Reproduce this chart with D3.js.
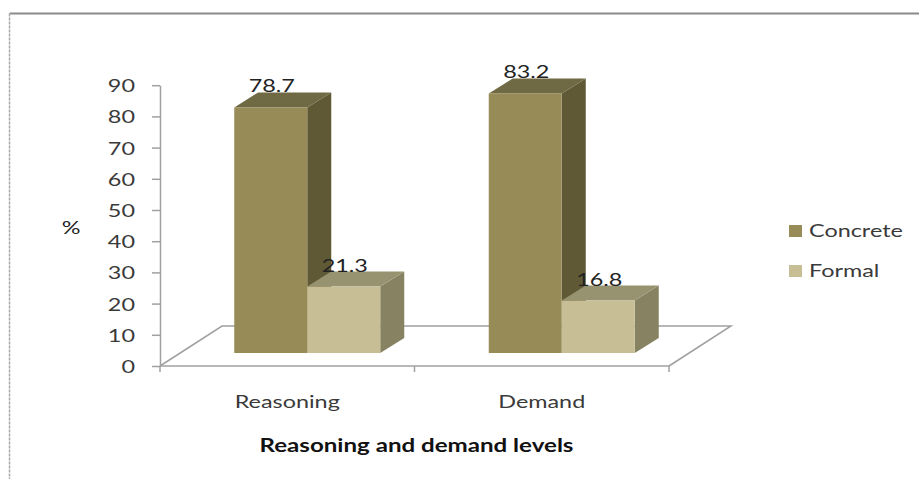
<!DOCTYPE html>
<html>
<head>
<meta charset="utf-8">
<script src="https://cdn.jsdelivr.net/npm/d3@7"></script>
<style>
  body { margin: 0; background: #fff; }
  text { font-family: Lato, "Open Sans", sans-serif; }
</style>
</head>
<body>
<div id="chart"></div>
<script>
// data
const categories = ["Reasoning", "Demand"];
const series = ["Concrete", "Formal"];
const concreteVals = [78.7, 83.2];
const formalVals = [21.3, 16.8];
const yTicks = [0, 10, 20, 30, 40, 50, 60, 70, 80, 90];

const colors = {
  Concrete: {front: "#978c57", side: "#5f5935", top: "#6f6a43"},
  Formal:   {front: "#c8be95", side: "#868262", top: "#97926f"}
};

const W = 919, H = 479;
const sx = 1.3; // the source picture is stretched sideways, so is the text

const svg = d3.select("#chart").append("svg")
    .attr("width", W)
    .attr("height", H);

// outer frame (only top and left edges show)
svg.append("line").attr("x1", 9.5).attr("x2", W).attr("y1", 13.5).attr("y2", 13.5)
    .style("stroke", "#8a8a8a").style("stroke-width", 2);
svg.append("line").attr("x1", 9.5).attr("x2", 9.5).attr("y1", 13.5).attr("y2", H)
    .style("stroke", "#a8a8a8").style("stroke-width", 1.5).style("stroke-dasharray", "3,1");

// scales
const y = d3.scaleLinear().domain([0, 90]).range([366, 85.2]);
const x = d3.scaleBand().domain(categories).range([160, 669]).padding(0);
const inner = d3.scaleBand().domain(series).range([0, 146]);

// 3d offsets
const floorDepth = {dx: 62, dy: -40};
const barShift = {dx: 20, dy: -13};
const barDepth = {dx: 24, dy: -15};

// helper for stretched text
function label(g, str, px, py, anchor, opts) {
    opts = opts || {};
    return g.append("text")
        .attr("transform", "translate(" + px + "," + py + ") scale(" + (opts.sx || sx) + ",1)")
        .attr("text-anchor", anchor)
        .style("font-size", (opts.size || 18) + "px")
        .style("font-weight", opts.weight || "normal")
        .style("fill", opts.fill || "#3a3a3a")
        .text(str);
}

// floor
const x0 = x.range()[0], x1 = x.range()[1], yb = y(0);
svg.append("path")
    .attr("d", "M" + x0 + "," + yb +
               "L" + (x0 + floorDepth.dx) + "," + (yb + floorDepth.dy) +
               "L" + (x1 + floorDepth.dx) + "," + (yb + floorDepth.dy) +
               "L" + x1 + "," + yb)
    .style("fill", "none")
    .style("stroke", "#a0a0a0")
    .style("stroke-width", 1.5);

// y axis
const yAxis = d3.axisLeft(y).tickValues(yTicks).tickSize(8).tickSizeOuter(0);
const gy = svg.append("g")
    .attr("transform", "translate(" + x0 + ",0)")
    .call(yAxis);
gy.select(".domain").style("stroke", "#a0a0a0").style("stroke-width", 1.5);
gy.selectAll(".tick line").style("stroke", "#a0a0a0").style("stroke-width", 1.5);
gy.selectAll(".tick text")
    .attr("x", null)
    .attr("dy", "0.36em")
    .attr("transform", "translate(-25,0) scale(" + sx + ",1)")
    .style("font-family", "Lato, 'Open Sans', sans-serif")
    .style("font-size", "18px")
    .style("fill", "#3a3a3a");

// x axis line and ticks at band edges
svg.append("line")
    .attr("x1", x0).attr("x2", x1).attr("y1", yb).attr("y2", yb)
    .style("stroke", "#a0a0a0").style("stroke-width", 1.5);
const xEdges = categories.map(c => x(c)).concat([x1]);
svg.selectAll(".xtick").data(xEdges).enter().append("line")
    .attr("class", "xtick")
    .attr("x1", d => d).attr("x2", d => d)
    .attr("y1", yb).attr("y2", yb + 6)
    .style("stroke", "#a0a0a0").style("stroke-width", 1.5);

categories.forEach(c => {
    label(svg, c, x(c) + x.bandwidth() / 2, 408, "middle");
});

// bars
const rows = [];
categories.forEach((c, i) => {
    rows.push({cat: c, s: "Concrete", v: concreteVals[i]});
    rows.push({cat: c, s: "Formal", v: formalVals[i]});
});

const bars = svg.append("g").attr("class", "bars");
rows.forEach(d => {
    const left = x(d.cat) + x.bandwidth() / 2 - 73 + inner(d.s) + barShift.dx;
    const right = left + inner.bandwidth();
    const bottom = y(0) + barShift.dy;
    const top = y(d.v) + barShift.dy;
    const c = colors[d.s];
    const g = bars.append("g");
    // side
    g.append("path")
        .attr("d", "M" + right + "," + top +
                   "L" + (right + barDepth.dx) + "," + (top + barDepth.dy) +
                   "L" + (right + barDepth.dx) + "," + (bottom + barDepth.dy) +
                   "L" + right + "," + bottom + "Z")
        .style("fill", c.side);
    // top
    g.append("path")
        .attr("d", "M" + left + "," + top +
                   "L" + (left + barDepth.dx) + "," + (top + barDepth.dy) +
                   "L" + (right + barDepth.dx) + "," + (top + barDepth.dy) +
                   "L" + right + "," + top + "Z")
        .style("fill", c.top);
    // front
    g.append("rect")
        .attr("x", left).attr("y", top)
        .attr("width", right - left).attr("height", bottom - top)
        .style("fill", c.front);
    d.labelX = (left + right) / 2 + 1;
    d.labelY = top + barDepth.dy;
});

// value labels
rows.forEach(d => {
    label(svg, d.v.toFixed(1), d.labelX, d.labelY, "middle", {fill: "#222"});
});

// y title
label(svg, "%", 71, 234, "middle", {fill: "#222"});

// x title
label(svg, "Reasoning and demand levels", (x0 + x1) / 2 + 2, 452, "middle",
      {weight: "bold", fill: "#111", sx: 1.34});

// legend
const legend = svg.append("g");
series.forEach((s, i) => {
    const ly = 231 + i * 40;
    legend.append("rect")
        .attr("x", 789).attr("y", ly - 6)
        .attr("width", 13).attr("height", 12)
        .style("fill", colors[s].front);
    label(legend, s, 809, ly + 6, "start");
});
</script>
</body>
</html>
